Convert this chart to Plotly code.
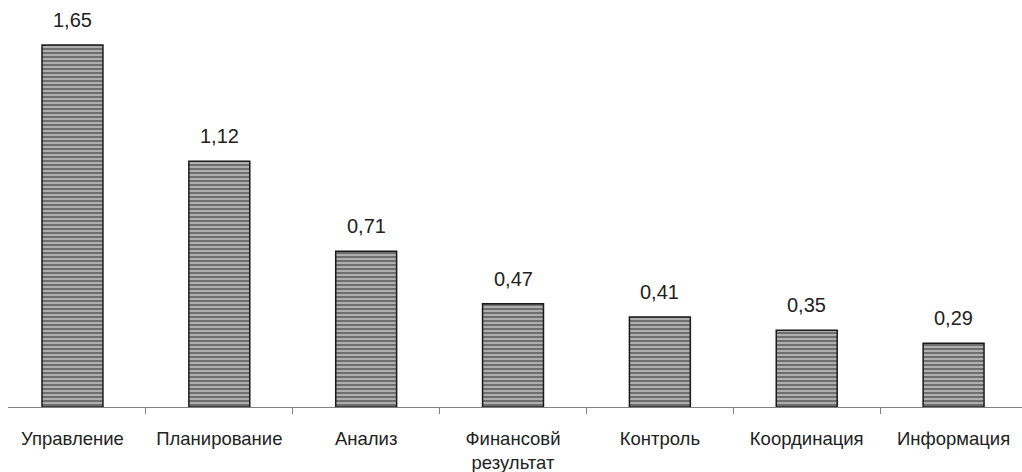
import plotly.graph_objects as go

categories = ["Управление", "Планирование", "Анализ", "Финансовй<br>результат",
              "Контроль", "Координация", "Информация"]
values = [1.65, 1.12, 0.71, 0.47, 0.41, 0.35, 0.29]
labels = ["1,65", "1,12", "0,71", "0,47", "0,41", "0,35", "0,29"]

fig = go.Figure()
fig.add_trace(go.Bar(
    x=categories, y=values, width=0.415,
    marker=dict(color="#8c8c8c", line=dict(color="#1a1a1a", width=1.5),
                pattern=dict(shape="-", fgcolor="white", bgcolor="#6e6e6e",
                             size=4, solidity=0.45)),
))
for c, v, t in zip(categories, values, labels):
    fig.add_annotation(x=c, y=v, text=t, showarrow=False, yanchor="bottom",
                       yshift=12, font=dict(size=20, color="#222222"))

fig.update_layout(
    width=1022, height=472, plot_bgcolor="white", paper_bgcolor="white",
    margin=dict(l=8, r=0, t=1, b=65), showlegend=False,
    font=dict(family="Liberation Sans, Arial, sans-serif", size=18.5, color="#222222"),
    xaxis=dict(range=[-0.439, 6.466], showline=True, linecolor="#808080", linewidth=1,
               ticks="outside", tickson="boundaries", ticklen=6, tickcolor="#808080",
               ticklabelstandoff=15, showgrid=False, zeroline=False),
    yaxis=dict(range=[0, 1.85], visible=False, showgrid=False),
)
fig.write_html("out.html")
